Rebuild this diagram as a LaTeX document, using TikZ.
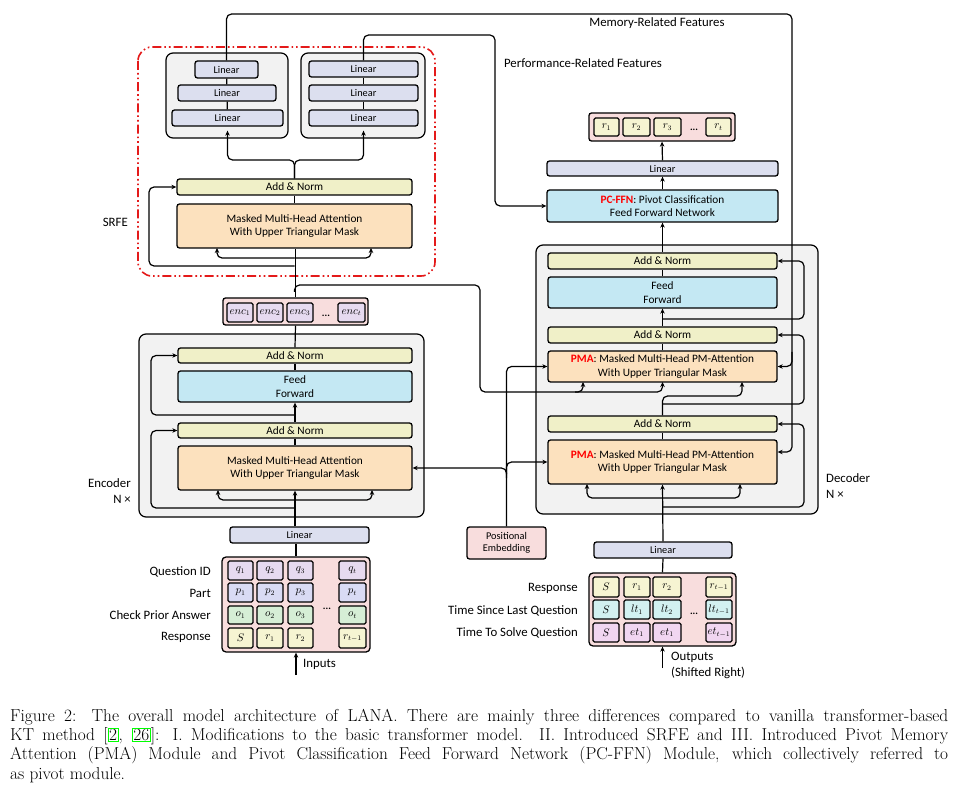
\documentclass[tikz,border=0pt]{standalone}
\usepackage{fontspec}
\newfontfamily\carl{Carlito}
\usetikzlibrary{arrows.meta}
\definecolor{addc}{HTML}{F0F0C8}
\definecolor{mhac}{HTML}{FCE1BE}
\definecolor{ffc}{HTML}{C4E8F3}
\definecolor{linc}{HTML}{DCDFEF}
\definecolor{grayc}{HTML}{F2F2F2}
\definecolor{pinkc}{HTML}{F8DDDD}
\definecolor{qc}{HTML}{E6DAF0}
\definecolor{pc}{HTML}{D9DBF4}
\definecolor{oc}{HTML}{D6EED6}
\definecolor{rc}{HTML}{F6F4D2}
\definecolor{ltc}{HTML}{D2F1F1}
\definecolor{etc}{HTML}{F1D6F1}
\definecolor{srfered}{HTML}{E41A1A}
\definecolor{citegreen}{HTML}{00FF00}
\tikzset{
 blk/.style={draw, line width=1.3pt, rounded corners=2.5pt, align=center, inner sep=0pt, font=\carl\fontsize{11.3}{13.5}\selectfont},
 linblk/.style={blk, fill=linc, font=\carl\fontsize{10.3}{12}\selectfont},
 grp/.style={draw, line width=1.2pt, rounded corners=7pt, fill=grayc},
 cell/.style={draw, line width=1.3pt, rounded corners=1.5pt, inner sep=0pt, font=\fontsize{10.5}{11}\selectfont},
 ln/.style={line width=1.2pt, rounded corners=5pt},
 arr/.style={ln, -{Stealth[length=5pt,width=4.5pt]}},
 lbl/.style={font=\carl\fontsize{12.8}{16}\selectfont, inner sep=0pt},
 dots/.style={font=\carl\bfseries\fontsize{10}{11}\selectfont},
}
\newcommand\bx[7]{\node[#6, minimum width={(#4)-(#2)}, minimum height={(#5)-(#3)}] (#1) at ({((#2)+(#4))/2},{((#3)+(#5))/2}) {#7};}
\newcommand\inrow[8]{%
 \bx{#1a}{228}{#2}{253}{#3}{cell,fill=#4}{#5}%
 \bx{#1b}{257}{#2}{283}{#3}{cell,fill=#4}{#6}%
 \bx{#1c}{288}{#2}{313}{#3}{cell,fill=#4}{#7}%
 \bx{#1d}{339}{#2}{366}{#3}{cell,fill=#4}{#8}}
\newcommand\outrow[8]{%
 \bx{#1a}{593}{#2}{619}{#3}{cell,fill=#4}{#5}%
 \bx{#1b}{624}{#2}{650}{#3}{cell,fill=#4}{#6}%
 \bx{#1c}{653}{#2}{681}{#3}{cell,fill=#4}{#7}%
 \bx{#1d}{706}{#2}{732}{#3}{cell,fill=#4}{#8}}
\newcommand\pmatxt{{\bfseries\color{red}PMA}: Masked Multi-Head PM-Attention\\With Upper Triangular Mask}
\begin{document}
\begin{tikzpicture}[x=1pt,y=-1pt]
\fill[white] (0,0) rectangle (959,786);
\useasboundingbox (0,0) rectangle (959,786);

% ---------- SRFE ----------
\draw[srfered, line width=1.6pt, rounded corners=14pt, dash pattern=on 9pt off 3pt on 1.6pt off 3pt on 1.6pt off 3pt] (138,47) rectangle (435,276);
\node[lbl, anchor=east] at (128,222) {SRFE};
\bx{G1}{166}{53}{288}{138}{grp}{}
\bx{G2}{301}{53}{425}{138}{grp}{}
\bx{L1a}{195}{61}{258}{78}{linblk}{Linear}
\bx{L1b}{178}{85}{276}{101}{linblk}{Linear}
\bx{L1c}{172}{110}{283}{126}{linblk}{Linear}
\bx{L2a}{309}{61}{418}{77}{linblk}{Linear}
\bx{L2b}{309}{85}{418}{101}{linblk}{Linear}
\bx{L2c}{309}{110}{418}{126}{linblk}{Linear}
\draw[ln] (L1a) -- (L1b) -- (L1c);
\draw[ln] (L2a) -- (L2b) -- (L2c);
\bx{sadd}{177}{179}{412}{195}{blk,fill=addc}{Add \& Norm}
\bx{smha}{177}{204}{412}{248}{blk,fill=mhac}{Masked Multi-Head Attention\\With Upper Triangular Mask}
\coordinate (sf) at (0,160);
\draw[arr, shorten >=4pt] (sadd.north) |- (L1c.south |- sf) -- (L1c.south);
\draw[arr, shorten >=4pt] (sadd.north) |- (L2c.south |- sf) -- (L2c.south);
\draw[ln] (smha.north) -- (sadd.south);
\draw[arr] (294.5,266) -- (149,266) |- (sadd.west);
\draw[arr] (294.5,258) -| (217,248);
\draw[arr] (294.5,258) -| (371,248);

% ---------- top feature lines ----------
\coordinate (mcorner) at (792,14);
\coordinate (mlow) at (0,452);
\coordinate (pcorner) at (495,35);
\node[lbl] at (657,23) {Memory-Related Features};
\node[lbl] at (583,63) {Performance-Related Features};

% ---------- output head ----------
\bx{rbox}{589}{113}{735}{141}{draw, line width=1.3pt, rounded corners=2.5pt, fill=pinkc}{}
\bx{ro1}{594}{118}{619}{136}{cell,fill=rc}{$r_1$}
\bx{ro2}{623}{118}{650}{136}{cell,fill=rc}{$r_2$}
\bx{ro3}{654}{118}{681}{136}{cell,fill=rc}{$r_3$}
\bx{rot}{706}{118}{731}{136}{cell,fill=rc}{$r_t$}
\node[dots] at (694,130) {...};
\bx{dlin}{547}{161}{778}{176}{linblk}{Linear}
\bx{pcffn}{547}{190}{778}{222}{blk,fill=ffc}{{\bfseries\color{red}PC-FFN}: Pivot Classification\\Feed Forward Network}
\draw[arr] (pcffn.north) -- (dlin.south);
\draw[arr] (dlin.north) -- (rbox.south);
\draw[arr] (L2a.north) |- (pcorner) |- (pcffn.west);

% ---------- decoder ----------
\bx{decb}{536}{245}{818}{514}{grp}{}
\node[lbl, anchor=west, align=left] at (826,486) {Decoder\\N ×};
\bx{dadd3}{548}{253}{777}{269}{blk,fill=addc}{Add \& Norm}
\bx{dff}{548}{277}{777}{308}{blk,fill=ffc}{Feed\\Forward}
\bx{dadd2}{548}{327}{777}{343}{blk,fill=addc}{Add \& Norm}
\bx{dpma2}{548}{351}{777}{382}{blk,fill=mhac}{\pmatxt}
\bx{dadd1}{548}{416}{777}{432}{blk,fill=addc}{Add \& Norm}
\bx{dpma1}{548}{440}{777}{484}{blk,fill=mhac}{\pmatxt}
\coordinate (dpma1east) at (dpma1.east |- mlow);
\draw[arr] (L1a.north) |- (mcorner) |- (dpma1east);
\coordinate (mb) at (792,352);
\draw[arr] (mb) |- (dpma2.east);
\draw[arr] (dadd3.north) -- (pcffn.south);
\draw[ln] (dff.north) -- (dadd3.south);
\draw[arr] (dadd2.north) -- (dff.south);
\draw[ln] (dpma2.north) -- (dadd2.south);
\draw[ln] (dpma1.north) -- (dadd1.south);
\draw[arr] (dadd1.north) |- (742,396) -- (742,382);
\draw[arr] (662.5,319) -- (804,319) |- (dadd3.east);
\draw[arr] (662.5,404) -- (804,404) |- (dadd2.east);
\draw[arr] (662.5,507) -- (804,507) |- (dadd1.east);
\draw[arr] (662.5,498) -| (587,484);
\draw[arr] (662.5,498) -| (740,484);

% ---------- encoder ----------
\bx{encb}{223}{298}{368}{325}{draw, line width=1.3pt, rounded corners=2.5pt, fill=pinkc}{}
\bx{e1}{227}{303}{253}{322}{cell,fill=qc}{$enc_1$}
\bx{e2}{257}{303}{283}{322}{cell,fill=qc}{$enc_2$}
\bx{e3}{287}{303}{313}{322}{cell,fill=qc}{$enc_3$}
\bx{et}{338}{303}{365}{322}{cell,fill=qc}{$enc_t$}
\node[dots] at (326,316) {...};
\draw[ln] (encb.north) -- (encb.north |- smha.south);
\bx{ebox}{139}{334}{424}{517}{grp}{}
\node[lbl, anchor=east, align=right] at (131,491) {Encoder\\N ×};
\bx{eadd2}{178}{348}{412}{363}{blk,fill=addc}{Add \& Norm}
\bx{eff}{178}{371}{412}{402}{blk,fill=ffc}{Feed\\Forward}
\bx{eadd1}{178}{423}{412}{438}{blk,fill=addc}{Add \& Norm}
\bx{emha}{178}{446}{412}{490}{blk,fill=mhac}{Masked Multi-Head Attention\\With Upper Triangular Mask}
\draw[ln] (eadd2.north) -- (encb.south);
\draw[ln] (eff.north) -- (eadd2.south);
\draw[arr] (eadd1.north) -- (eff.south);
\draw[ln] (emha.north) -- (eadd1.south);
\draw[arr] (295,415) -- (151,415) |- (eadd2.west);
\draw[arr] (295,508) -- (151,508) |- (eadd1.west);
\draw[arr] (295,500) -| (218,490);
\draw[arr] (295,500) -| (372,490);

% encoder output to decoder
\draw[arr] (294.5,292) |- (480,285) -- (480,392) -| (583,382);
\draw[arr] (575,392) -| (662.5,382);

% ---------- positional embedding ----------
\bx{pe}{467}{527}{546}{559}{blk,fill=pinkc,font=\carl\fontsize{10.3}{12.5}\selectfont}{Positional\\Embedding}
\draw[arr] (pe.north) |- (dpma2.west);
\draw[arr] (506.5,474) |- (dpma1.west);
\draw[arr] (506.5,478) |- (emha.east);

% ---------- encoder inputs ----------
\bx{elin}{230}{527}{369}{543}{linblk}{Linear}
\draw[arr] (elin.north -| emha.south) -- (emha.south);
\bx{ibox}{222}{557}{370}{652}{draw, line width=1.3pt, rounded corners=4pt, fill=pinkc}{}
\draw[ln] (ibox.north) -- (elin.south -| ibox.north);
\inrow{iq}{561}{580}{qc}{$q_1$}{$q_2$}{$q_3$}{$q_t$}
\inrow{ip}{583}{602}{pc}{$p_1$}{$p_2$}{$p_3$}{$p_t$}
\inrow{io}{606}{624}{oc}{$o_1$}{$o_2$}{$o_3$}{$o_t$}
\inrow{ir}{628}{648}{rc}{$S$}{$r_1$}{$r_2$}{$r_{t-1}$}
\node[dots] at (327,609) {...};
\node[lbl, anchor=east] at (211,572) {Question ID};
\node[lbl, anchor=east] at (211,593) {Part};
\node[lbl, anchor=east] at (211,615) {Check Prior Answer};
\node[lbl, anchor=east] at (211,637) {Response};
\coordinate (inp) at (296,675);
\draw[arr] (inp) -- (ibox.south);
\node[lbl, anchor=west] at (303,664) {Inputs};

% ---------- decoder inputs ----------
\bx{dlin2}{594}{542}{732}{558}{linblk}{Linear}
\draw[arr] (dlin2.north) -- (dpma1.south);
\bx{obox}{589}{573}{736}{646}{draw, line width=1.3pt, rounded corners=4pt, fill=pinkc}{}
\draw[ln] (obox.north) -- (dlin2.south);
\outrow{or}{577}{597}{rc}{$S$}{$r_1$}{$r_2$}{$r_{t-1}$}
\outrow{ol}{600}{619}{ltc}{$S$}{$lt_1$}{$lt_2$}{$lt_{t-1}$}
\outrow{oe}{623}{642}{etc}{$S$}{$et_1$}{$et_1$}{$et_{t-1}$}
\node[dots] at (694,614) {...};
\node[lbl, anchor=east] at (578,588) {Response};
\node[lbl, anchor=east] at (578,611) {Time Since Last Question};
\node[lbl, anchor=east] at (578,633) {Time To Solve Question};
\coordinate (outp) at (662.5,668);
\draw[arr] (outp) -- (obox.south);
\node[lbl, anchor=north west, align=left] at (671,652) {Outputs\\(Shifted Right)};

% ---------- caption ----------
\node[anchor=north west, text width=938pt, align=justify, inner sep=0pt, font=\fontsize{17.3}{19.2}\selectfont] at (10,709) {Figure 2: The overall model architecture of LANA. There are mainly three differences compared to vanilla transformer-based\linebreak KT method [{\color{citegreen}\fboxsep=0.5pt\fboxrule=1pt\fbox{\color{black}2}}, {\color{citegreen}\fboxsep=0.5pt\fboxrule=1pt\fbox{\color{black}26}}]: I. Modifications to the basic transformer model. II. Introduced SRFE and III. Introduced Pivot Memory\linebreak Attention (PMA) Module and Pivot Classification Feed Forward Network (PC-FFN) Module, which collectively referred to\linebreak as pivot module.};
\end{tikzpicture}
\end{document}
